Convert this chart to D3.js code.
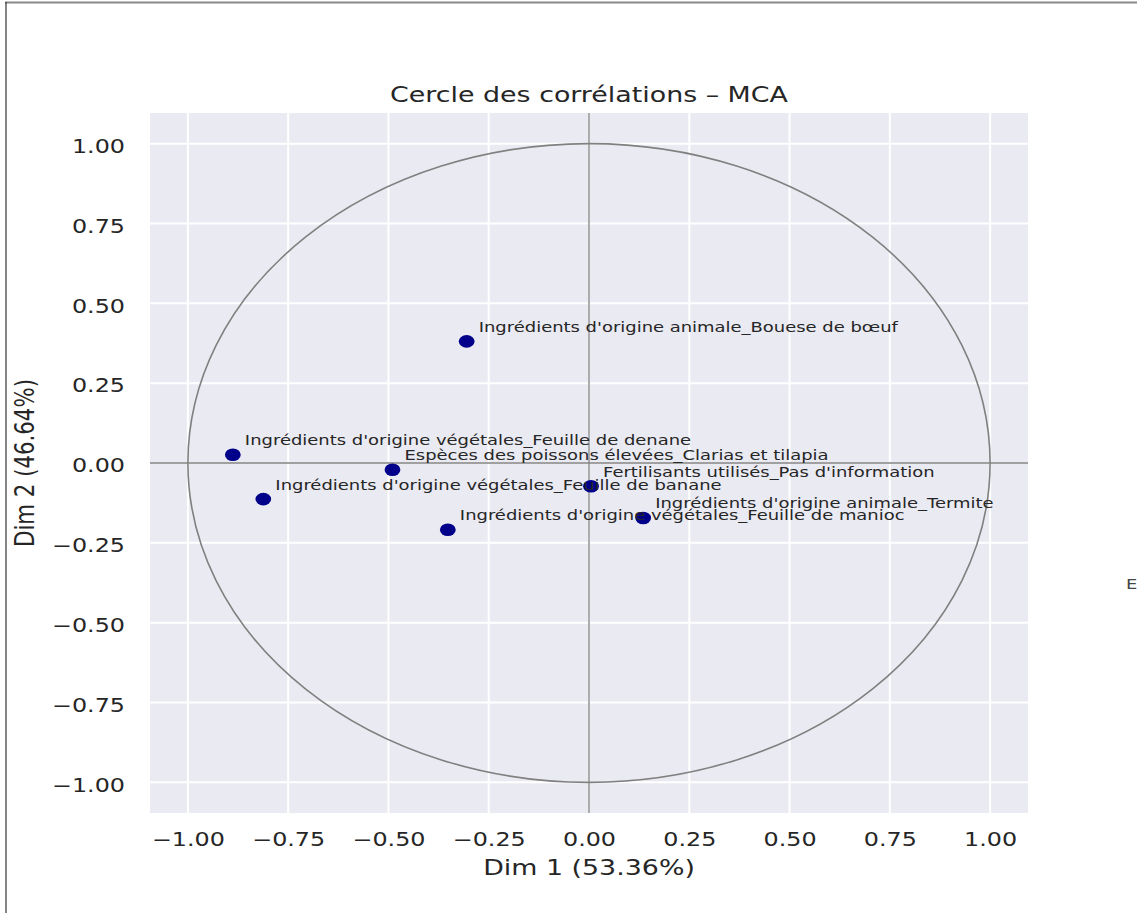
<!DOCTYPE html>
<html>
<head>
<meta charset="utf-8">
<script src="https://cdn.jsdelivr.net/npm/d3@7"></script>
<style>
  html, body { margin: 0; padding: 0; background: #fff; }
  svg { display: block; font-family: "DejaVu Sans", sans-serif; }
</style>
</head>
<body>
<svg id="chart" width="1137" height="913"></svg>
<script>
// ---- data ----
const labels = [
  "Ingrédients d'origine animale_Bouese de bœuf",
  "Ingrédients d'origine végétales_Feuille de denane",
  "Espèces des poissons élevées_Clarias et tilapia",
  "Ingrédients d'origine végétales_Feuille de banane",
  "Ingrédients d'origine végétales_Feuille de manioc",
  "Fertilisants utilisés_Pas d'information",
  "Ingrédients d'origine animale_Termite"
];
const dim1 = [-0.305, -0.888, -0.490, -0.812, -0.352, 0.005, 0.135];
const dim2 = [0.381, 0.026, -0.021, -0.113, -0.209, -0.073, -0.172];
const xTicks = [-1.00, -0.75, -0.50, -0.25, 0.00, 0.25, 0.50, 0.75, 1.00];
const yTicks = [-1.00, -0.75, -0.50, -0.25, 0.00, 0.25, 0.50, 0.75, 1.00];
const titleText = "Cercle des corrélations – MCA";
const xLabelText = "Dim 1 (53.36%)";
const yLabelText = "Dim 2 (46.64%)";

// ---- layout ----
const SX = 1.255; // horizontal stretch of the original image
const plot = { left: 150, right: 1028, top: 113, bottom: 813 };
const x = d3.scaleLinear().domain([-1.0945, 1.0945]).range([plot.left, plot.right]);
const y = d3.scaleLinear().domain([-1.096, 1.096]).range([plot.bottom, plot.top]);
const textColor = "#262626";

const svg = d3.select("#chart");
svg.append("rect").attr("width", 1137).attr("height", 913).attr("fill", "#fff");

// frame lines of the original picture
svg.append("line").attr("x1", 5).attr("x2", 1137).attr("y1", 2.5).attr("y2", 2.5)
  .attr("stroke", "#888").attr("stroke-width", 2);
svg.append("line").attr("x1", 6).attr("x2", 6).attr("y1", 2).attr("y2", 913)
  .attr("stroke", "#333").attr("stroke-width", 1.2);

// plot background
svg.append("rect")
  .attr("x", plot.left).attr("y", plot.top)
  .attr("width", plot.right - plot.left).attr("height", plot.bottom - plot.top)
  .attr("fill", "#eaeaf2");

// grid
const g = svg.append("g");
g.selectAll("line.vg").data(xTicks).enter().append("line")
  .attr("x1", d => x(d)).attr("x2", d => x(d))
  .attr("y1", plot.top).attr("y2", plot.bottom)
  .attr("stroke", "#fff").attr("stroke-width", 2);
g.selectAll("line.hg").data(yTicks).enter().append("line")
  .attr("y1", d => y(d)).attr("y2", d => y(d))
  .attr("x1", plot.left).attr("x2", plot.right)
  .attr("stroke", "#fff").attr("stroke-width", 2);

// axes lines at 0
g.append("line").attr("x1", x(0)).attr("x2", x(0)).attr("y1", plot.top).attr("y2", plot.bottom)
  .attr("stroke", "#808080").attr("stroke-width", 1.3);
g.append("line").attr("y1", y(0)).attr("y2", y(0)).attr("x1", plot.left).attr("x2", plot.right)
  .attr("stroke", "#808080").attr("stroke-width", 1.3);

// correlation circle
g.append("ellipse")
  .attr("cx", x(0)).attr("cy", y(0))
  .attr("rx", x(1) - x(0)).attr("ry", y(0) - y(1))
  .attr("fill", "none").attr("stroke", "#808080").attr("stroke-width", 1.6);

// points
const pts = labels.map((l, i) => ({ label: l, a: dim1[i], b: dim2[i] }));
g.selectAll("ellipse.pt").data(pts).enter().append("ellipse")
  .attr("class", "pt")
  .attr("cx", d => x(d.a)).attr("cy", d => y(d.b))
  .attr("rx", 7.9).attr("ry", 6.3)
  .attr("fill", "#00008b");

// annotations
g.selectAll("text.lab").data(pts).enter().append("text")
  .attr("class", "lab")
  .attr("transform", d => `translate(${x(d.a + 0.03)},${y(d.b + 0.03)}) scale(${SX},1)`)
  .attr("font-size", 14.3)
  .attr("fill", textColor)
  .text(d => d.label);

// axes
const fmt = d3.format(".2f");
const xAxis = svg.append("g")
  .attr("transform", `translate(0,${plot.bottom})`)
  .call(d3.axisBottom(x).tickValues(xTicks).tickFormat(fmt).tickSize(0));
xAxis.select(".domain").remove();
xAxis.selectAll("text")
  .attr("y", 33.5).attr("dy", 0)
  .attr("transform", `scale(${SX},1)`)
  .attr("font-size", 19).attr("font-family", "DejaVu Sans").attr("fill", textColor);

const yAxis = svg.append("g")
  .attr("transform", `translate(${plot.left},0)`)
  .call(d3.axisLeft(y).tickValues(yTicks).tickFormat(fmt).tickSize(0));
yAxis.select(".domain").remove();
yAxis.selectAll("text")
  .attr("x", -25 / SX).attr("dy", 0).attr("y", 8.8)
  .attr("transform", `scale(${SX},1)`)
  .attr("font-size", 19).attr("font-family", "DejaVu Sans").attr("fill", textColor);

// title & axis labels
svg.append("text")
  .attr("transform", `translate(${x(0)},101.5) scale(${SX},1)`)
  .attr("text-anchor", "middle").attr("font-size", 21.4).attr("fill", textColor)
  .text(titleText);
svg.append("text")
  .attr("transform", `translate(${x(0)},875) scale(${SX},1)`)
  .attr("text-anchor", "middle").attr("font-size", 21.4).attr("fill", textColor)
  .text(xLabelText);
svg.append("text")
  .attr("transform", `translate(34,${y(0)}) scale(${SX},1) rotate(-90)`)
  .attr("text-anchor", "middle").attr("font-size", 21.3).attr("fill", textColor)
  .text(yLabelText);

// clipped text fragment at the right edge of the original picture
svg.append("text")
  .attr("transform", `translate(1126,589) scale(${SX},1)`)
  .attr("font-size", 14.3).attr("fill", "#444")
  .text("E");
</script>
</body>
</html>
